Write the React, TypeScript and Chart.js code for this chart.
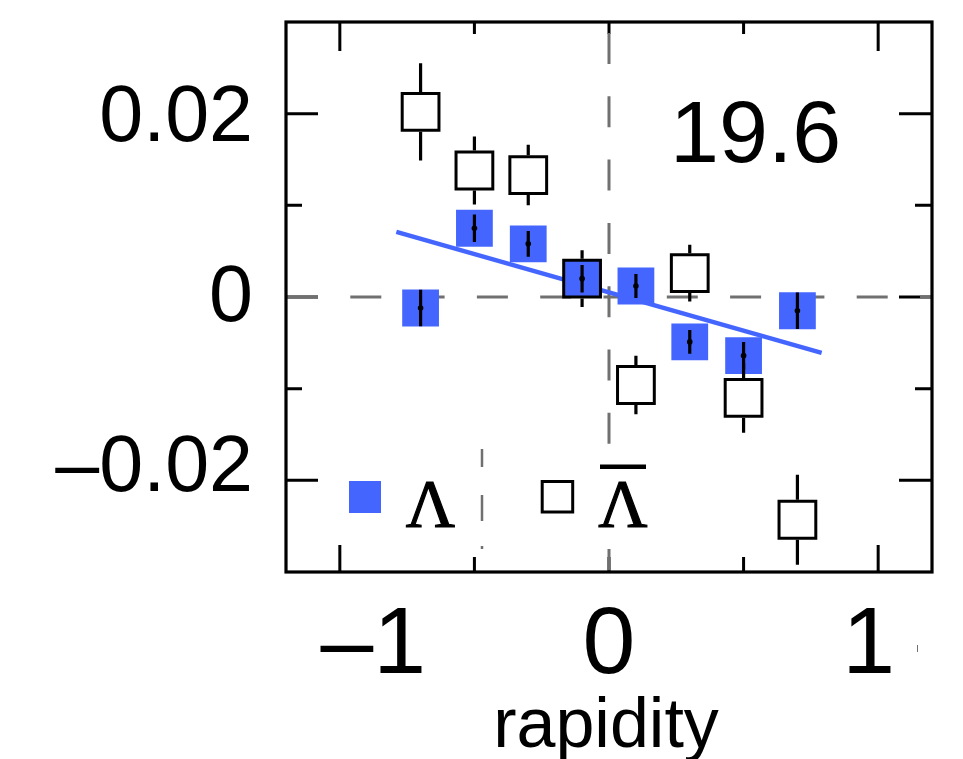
import React, { useEffect, useRef } from 'react';
import { Chart, registerables } from 'chart.js';

Chart.register(...registerables);

// ---- data ----
const rapidity = [-0.7, -0.5, -0.3, -0.1, 0.1, 0.3, 0.5, 0.7];
const lambdaPol = [-0.0012, 0.0075, 0.0058, 0.002, 0.0012, -0.0049, -0.0064, -0.0015];
const lambdaErr = [0.002, 0.0015, 0.0014, 0.0015, 0.0013, 0.0013, 0.0015, 0.002];
const antiLambdaPol = [0.0202, 0.0138, 0.0133, 0.002, -0.0096, 0.0026, -0.011, -0.0243];
const antiLambdaErr = [0.0053, 0.0037, 0.0033, 0.0031, 0.0032, 0.0031, 0.0038, 0.0049];
const fitRapidity = [-0.79, 0.79];
const fitPol = [0.0071, -0.0061];
const xTickValues = [-1, 0, 1];
const xTickLabels = ['\u20131', '0', '1'];
const xMajorTicks = [-1, 1];
const xMinorTicks = [-0.5, 0, 0.5];
const yTickValues = [0.02, 0, -0.02];
const yTickLabels = ['0.02', '0', '\u20130.02'];
const yMinorTicks = [0.01, -0.01];
const energyLabel = '19.6';
const xTitle = 'rapidity';
const legendLambda = '\u039B';
const legendAntiLambda = '\u039B';

const BLUE = '#4466ff';
const GREY = '#707070';
const SANS = "'Liberation Sans', Arial, Helvetica, sans-serif";
const SERIF = "'Liberation Serif', 'Times New Roman', serif";
const SQUARE_R = 26;

const decorPlugin = {
  id: 'decor',
  beforeDatasetsDraw(chart: any) {
    const { ctx, chartArea: a, scales } = chart;
    const x = scales.x;
    const y = scales.y;
    ctx.save();
    // ticks (inward, all four sides)
    ctx.strokeStyle = '#000';
    ctx.lineWidth = 3;
    ctx.beginPath();
    xMajorTicks.forEach((v) => {
      const px = x.getPixelForValue(v);
      ctx.moveTo(px, a.top); ctx.lineTo(px, a.top + 29);
      ctx.moveTo(px, a.bottom); ctx.lineTo(px, a.bottom - 27);
    });
    xMinorTicks.forEach((v) => {
      const px = x.getPixelForValue(v);
      ctx.moveTo(px, a.top); ctx.lineTo(px, a.top + 12);
      ctx.moveTo(px, a.bottom); ctx.lineTo(px, a.bottom - 15);
    });
    yTickValues.forEach((v) => {
      const py = y.getPixelForValue(v);
      ctx.moveTo(a.left, py); ctx.lineTo(a.left + 32, py);
      ctx.moveTo(a.right, py); ctx.lineTo(a.right - 33, py);
    });
    yMinorTicks.forEach((v) => {
      const py = y.getPixelForValue(v);
      ctx.moveTo(a.left, py); ctx.lineTo(a.left + 16, py);
      ctx.moveTo(a.right, py); ctx.lineTo(a.right - 17, py);
    });
    ctx.stroke();

    // dashed zero lines
    ctx.strokeStyle = GREY;
    ctx.lineWidth = 3;
    ctx.setLineDash([31, 32.3]);
    const y0 = y.getPixelForValue(0);
    ctx.lineDashOffset = 0;
    ctx.beginPath();
    ctx.moveTo(a.left + 1, y0); ctx.lineTo(a.right, y0);
    ctx.stroke();
    const x0 = x.getPixelForValue(0);
    ctx.lineDashOffset = 52.3;
    ctx.beginPath();
    ctx.moveTo(x0, a.top); ctx.lineTo(x0, a.bottom);
    ctx.stroke();
    ctx.setLineDash([]);

    // legend background
    ctx.fillStyle = '#fff';
    ctx.fillRect(400, 448, 260, 101);
    // small grey residue marks
    ctx.strokeStyle = GREY;
    ctx.lineWidth = 2.5;
    ctx.beginPath();
    ctx.moveTo(482, 449); ctx.lineTo(482, 467);
    ctx.moveTo(482, 495); ctx.lineTo(482, 521);
    ctx.moveTo(482, 546); ctx.lineTo(482, 549);
    ctx.stroke();
    ctx.lineWidth = 1;
    ctx.beginPath();
    ctx.moveTo(917.5, 645); ctx.lineTo(917.5, 652);
    ctx.stroke();
    ctx.restore();
  },
  afterDatasetsDraw(chart: any) {
    const { ctx, chartArea: a, scales } = chart;
    const x = scales.x;
    const y = scales.y;
    ctx.save();
    // anti-lambda error bars (outside the open boxes)
    const half = SQUARE_R * Math.SQRT1_2 + 1.5;
    ctx.strokeStyle = '#000';
    ctx.lineWidth = 3.2;
    ctx.beginPath();
    rapidity.forEach((r, i) => {
      const px = x.getPixelForValue(r);
      const pc = y.getPixelForValue(antiLambdaPol[i]);
      const pt = y.getPixelForValue(antiLambdaPol[i] + antiLambdaErr[i]);
      const pb = y.getPixelForValue(antiLambdaPol[i] - antiLambdaErr[i]);
      if (pc - half > pt) { ctx.moveTo(px, pc - half); ctx.lineTo(px, pt); }
      if (pc + half < pb) { ctx.moveTo(px, pc + half); ctx.lineTo(px, pb); }
    });
    ctx.stroke();
    // lambda error bars with centre dot
    ctx.beginPath();
    rapidity.forEach((r, i) => {
      const px = x.getPixelForValue(r);
      ctx.moveTo(px, y.getPixelForValue(lambdaPol[i] + lambdaErr[i]));
      ctx.lineTo(px, y.getPixelForValue(lambdaPol[i] - lambdaErr[i]));
    });
    ctx.stroke();
    ctx.fillStyle = '#000';
    rapidity.forEach((r, i) => {
      ctx.beginPath();
      ctx.arc(x.getPixelForValue(r), y.getPixelForValue(lambdaPol[i]), 2.8, 0, Math.PI * 2);
      ctx.fill();
    });

    // frame
    ctx.strokeStyle = '#000';
    ctx.lineWidth = 3.2;
    ctx.strokeRect(a.left, a.top, a.right - a.left, a.bottom - a.top);

    // tick labels
    ctx.fillStyle = '#000';
    ctx.font = `95px ${SANS}`;
    ctx.textAlign = 'center';
    ctx.textBaseline = 'alphabetic';
    const xLabelShift = [33.5, 0, -9.5];
    xTickValues.forEach((v, i) => {
      ctx.fillText(xTickLabels[i], x.getPixelForValue(v) + xLabelShift[i], 673);
    });
    ctx.font = `79px ${SANS}`;
    ctx.textAlign = 'right';
    const yLabelShift = [27, 24, 11];
    yTickValues.forEach((v, i) => {
      ctx.fillText(yTickLabels[i], 253, y.getPixelForValue(v) + yLabelShift[i]);
    });

    // axis title
    ctx.font = `70px ${SANS}`;
    ctx.textAlign = 'center';
    ctx.fillText(xTitle, 606, 747);

    // energy label
    ctx.font = `88px ${SANS}`;
    ctx.textAlign = 'left';
    ctx.fillText(energyLabel, 670, 162);

    // legend
    ctx.fillStyle = BLUE;
    ctx.fillRect(349, 481, 32, 32);
    ctx.strokeStyle = '#000';
    ctx.lineWidth = 3;
    ctx.strokeRect(542.2, 481.5, 30.5, 30.5);
    ctx.fillStyle = '#000';
    ctx.font = `68px ${SERIF}`;
    ctx.textAlign = 'center';
    ctx.lineWidth = 1.2;
    ctx.fillText(legendLambda, 430.5, 526);
    ctx.strokeText(legendLambda, 430.5, 526);
    ctx.fillText(legendAntiLambda, 623, 526);
    ctx.strokeText(legendAntiLambda, 623, 526);
    ctx.lineWidth = 4.5;
    ctx.beginPath();
    ctx.moveTo(600, 466.7); ctx.lineTo(646, 466.7);
    ctx.stroke();
    ctx.restore();
  },
};

export default function App() {
  const canvasRef = useRef<HTMLCanvasElement | null>(null);

  useEffect(() => {
    const canvas = canvasRef.current;
    if (!canvas) return;
    const chart = new Chart(canvas, {
      type: 'scatter',
      data: {
        datasets: [
          {
            label: '\u039B\u0304',
            data: rapidity.map((r, i) => ({ x: r, y: antiLambdaPol[i] })),
            pointStyle: 'rect',
            pointRadius: SQUARE_R,
            borderColor: '#000',
            borderWidth: 3,
            backgroundColor: 'rgba(0,0,0,0)',
            showLine: false,
            clip: false,
          } as any,
          {
            label: '\u039B',
            data: rapidity.map((r, i) => ({ x: r, y: lambdaPol[i] })),
            pointStyle: 'rect',
            pointRadius: SQUARE_R,
            borderWidth: 0,
            borderColor: BLUE,
            backgroundColor: BLUE,
            showLine: false,
            clip: false,
          } as any,
          {
            type: 'line',
            label: 'fit',
            data: fitRapidity.map((r, i) => ({ x: r, y: fitPol[i] })),
            borderColor: BLUE,
            borderWidth: 4.5,
            pointRadius: 0,
            showLine: true,
            fill: false,
            clip: false,
          } as any,
        ],
      },
      options: {
        animation: false,
        responsive: false,
        devicePixelRatio: 1,
        layout: { autoPadding: false, padding: { left: 286, top: 22, right: 31, bottom: 187 } },
        scales: {
          x: { type: 'linear', min: -1.2, max: 1.2, display: false },
          y: { type: 'linear', min: -0.03, max: 0.03, display: false },
        },
        plugins: {
          legend: { display: false },
          tooltip: { enabled: false },
        },
        events: [],
      },
      plugins: [decorPlugin],
    });
    return () => chart.destroy();
  }, []);

  return (
    <div style={{ position: 'fixed', left: 0, top: 0, width: 963, height: 759, background: '#fff' }}>
      <canvas ref={canvasRef} width={963} height={759} style={{ display: 'block' }} />
    </div>
  );
}
